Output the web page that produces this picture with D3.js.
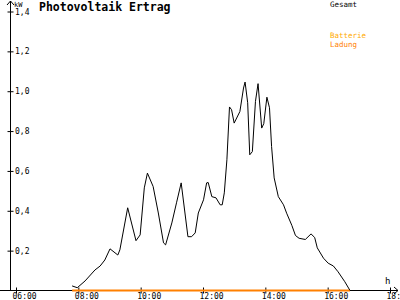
<!DOCTYPE html>
<html>
<head>
<meta charset="utf-8">
<script src="https://cdn.jsdelivr.net/npm/d3@7"></script>
<style>
  body { margin: 0; background: #fff; }
  svg { display: block; font-family: "DejaVu Sans Mono", monospace; }
</style>
</head>
<body>
<svg id="chart" width="400" height="300"></svg>
<script>
// PV output (kW) over the day
const pvTimes = ["07:48","07:58","08:13","08:32","08:42","08:51","09:01","09:16","09:20","09:35",
  "09:51","09:59","10:07","10:13","10:24","10:34","10:44","10:48","11:00","11:09",
  "11:18","11:31","11:38","11:45","11:51","12:01","12:07","12:10","12:17","12:25",
  "12:33","12:37","12:41","12:46","12:51","12:55","13:00","13:11","13:18","13:21",
  "13:26","13:30","13:35","13:41","13:46","13:53","13:57","14:03","14:08","14:12",
  "14:17","14:25","14:35","14:41","14:51","14:58","15:05","15:17","15:28","15:35",
  "15:40","15:52","16:01","16:11","16:20","16:33","16:43"];
const pvValues = [0.023,0.014,0.048,0.103,0.123,0.153,0.209,0.178,0.204,0.415,
  0.25,0.279,0.515,0.589,0.522,0.389,0.239,0.229,0.339,0.44,
  0.54,0.27,0.27,0.289,0.389,0.455,0.54,0.542,0.471,0.465,
  0.43,0.43,0.49,0.656,0.921,0.907,0.84,0.898,1.016,1.046,
  0.942,0.681,0.697,0.949,1.038,0.815,0.837,0.97,0.917,0.723,
  0.565,0.471,0.43,0.388,0.327,0.276,0.262,0.256,0.284,0.266,
  0.214,0.162,0.137,0.123,0.094,0.044,0.0];

// battery charge (kW), flat
const ladungTimes = ["07:48","16:43"];
const ladungValues = [0,0];

const xTicks = [6,8,10,12,14,16,18];
const yTicks = [0.2,0.4,0.6,0.8,1.0,1.2,1.4];
const legendLabels = ["Gesamt","Batterie","Ladung"];
const legendColors = ["#000000","#ffaa00","#ff8000"];

const toHours = s => { const p = s.split(":"); return +p[0] + p[1] / 60; };

const svg = d3.select("#chart");

const x = d3.scaleLinear().domain([6, 18]).range([16, 390]);
const y = d3.scaleLinear().domain([0, 1.4]).range([290.5, 11.5]);

// axes
const xAxis = svg.append("g")
    .attr("transform", "translate(0,290.5)")
    .call(d3.axisBottom(x).tickValues(xTicks).tickSize(3)
      .tickFormat(d => String(d).padStart(2, "0") + ":00"));
xAxis.select(".domain").remove();
xAxis.selectAll(".tick line").attr("y1", -3).attr("y2", 3).attr("stroke", "#000");
xAxis.selectAll(".tick text")
    .attr("y", 8).attr("dy", 0).attr("x", -4)
    .attr("text-anchor", "start")
    .attr("font-size", 8).attr("font-family", "DejaVu Sans Mono").attr("fill", "#000");

const yAxis = svg.append("g")
    .attr("transform", "translate(10.5,0)")
    .call(d3.axisRight(y).tickValues(yTicks).tickSize(3)
      .tickFormat(d => d.toFixed(1).replace(".", ",")));
yAxis.select(".domain").remove();
yAxis.selectAll(".tick line").attr("x1", -3).attr("x2", 3).attr("stroke", "#000");
yAxis.selectAll(".tick text")
    .attr("x", 4.5).attr("dy", "0.32em")
    .attr("font-size", 8).attr("font-family", "DejaVu Sans Mono").attr("fill", "#000");

// axis lines with arrows
svg.append("path")
    .attr("d", "M10.5,291V1 M7,5L10.5,1L14,5")
    .attr("fill", "none").attr("stroke", "#000");
svg.append("path")
    .attr("d", "M0,290.5H398 M394,287L398,290.5L394,294")
    .attr("fill", "none").attr("stroke", "#000");

svg.append("text").attr("x", 14).attr("y", 7)
    .attr("font-size", 7).text("kW");
svg.append("text").attr("x", 385).attr("y", 284)
    .attr("font-size", 9).text("h");

// series
const line = d3.line()
    .x(d => x(toHours(d[0])))
    .y(d => y(d[1]));

svg.append("path")
    .datum(d3.zip(ladungTimes, ladungValues))
    .attr("d", line)
    .attr("fill", "none")
    .attr("stroke", legendColors[2])
    .attr("stroke-width", 2);

svg.append("path")
    .datum(d3.zip(pvTimes, pvValues))
    .attr("d", line)
    .attr("fill", "none")
    .attr("stroke", legendColors[0])
    .attr("stroke-width", 1);

// title
svg.append("text").attr("x", 39).attr("y", 11)
    .attr("font-size", 11.5).attr("font-weight", "bold")
    .text("Photovoltaik Ertrag");

// legend
const legendY = [7, 38, 46.5];
svg.selectAll(".legend")
    .data(legendLabels)
    .enter()
    .append("text")
    .attr("class", "legend")
    .attr("x", 330)
    .attr("y", (d, i) => legendY[i])
    .attr("font-size", 7.5)
    .attr("fill", (d, i) => legendColors[i])
    .text(d => d);
</script>
</body>
</html>
